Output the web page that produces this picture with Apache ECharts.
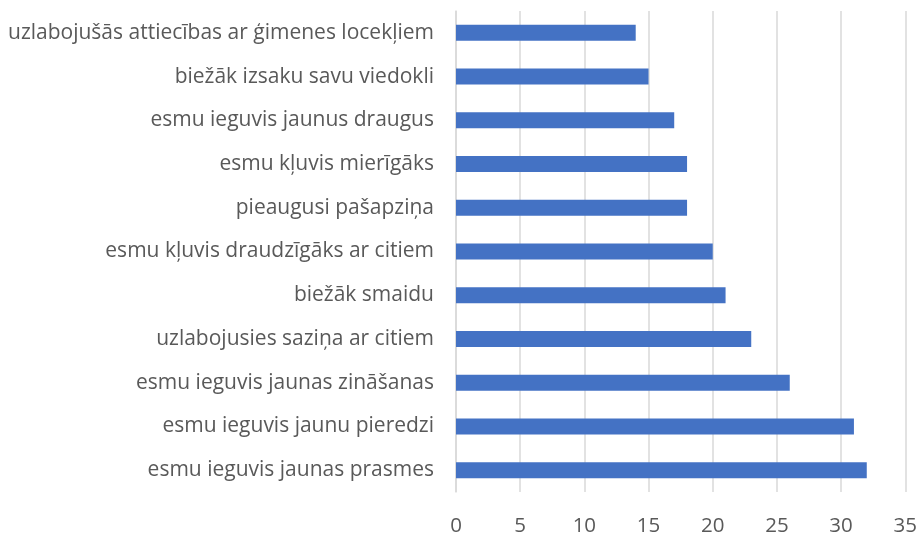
<!DOCTYPE html>
<html>
<head>
<meta charset="utf-8">
<script src="https://cdn.jsdelivr.net/npm/echarts@6/dist/echarts.min.js"></script>
<style>
  html, body { margin: 0; padding: 0; background: #fff; }
  #chart { width: 920px; height: 537px; }
</style>
</head>
<body>
<div id="chart"></div>
<script>
// kategorijas no apakšas uz augšu
const categories = [
  'esmu ieguvis jaunas prasmes',
  'esmu ieguvis jaunu pieredzi',
  'esmu ieguvis jaunas zināšanas',
  'uzlabojusies saziņa ar citiem',
  'biežāk smaidu',
  'esmu kļuvis draudzīgāks ar citiem',
  'pieaugusi pašapziņa',
  'esmu kļuvis mierīgāks',
  'esmu ieguvis jaunus draugus',
  'biežāk izsaku savu viedokli',
  'uzlabojušās attiecības ar ģimenes locekļiem'
]
const values = [32, 31, 26, 23, 21, 20, 18, 18, 17, 15, 14]
const axisMin = 0
const axisMax = 35
const axisStep = 5

const chart = echarts.init(document.getElementById('chart'))
chart.setOption({
  animation: false,
  textStyle: { fontFamily: '"Open Sans", sans-serif' },
  grid: { left: 456, right: 14, top: 11, bottom: 44 },
  xAxis: {
    type: 'value',
    min: axisMin,
    max: axisMax,
    interval: axisStep,
    axisLine: { show: false },
    axisTick: { show: false },
    axisLabel: { color: '#595959', fontSize: 20.5, margin: 24 },
    splitLine: { lineStyle: { color: '#d9d9d9', width: 1.5 } }
  },
  yAxis: {
    type: 'category',
    data: categories,
    axisLine: { lineStyle: { color: '#d9d9d9', width: 1.5 } },
    axisTick: { show: false },
    axisLabel: { color: '#595959', fontSize: 21, margin: 22 }
  },
  series: [{
    type: 'bar',
    data: values,
    barWidth: 16,
    itemStyle: { color: '#4472c4' }
  }]
})
</script>
</body>
</html>
